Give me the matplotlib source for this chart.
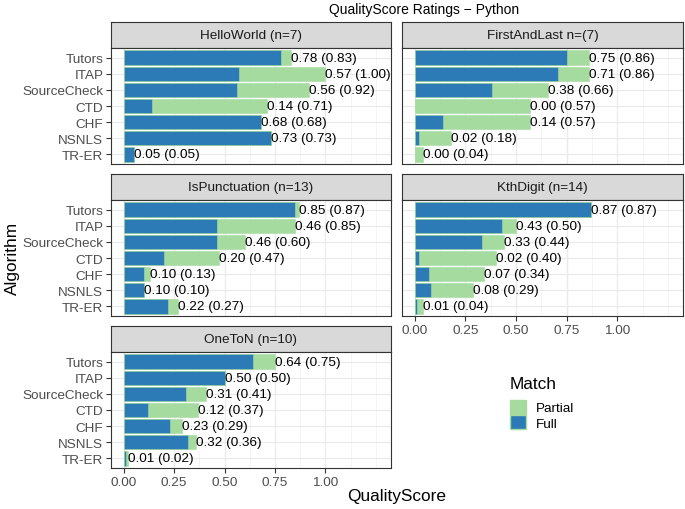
import matplotlib.pyplot as plt
from matplotlib.patches import Patch
import numpy as np

plt.rcParams['font.family'] = ['Liberation Sans', 'DejaVu Sans']

algorithms = ["Tutors", "ITAP", "SourceCheck", "CTD", "CHF", "NSNLS", "TR-ER"]

# strip title, full match score, full+partial score
problems = ["HelloWorld (n=7)", "FirstAndLast n=(7)", "IsPunctuation (n=13)",
            "KthDigit (n=14)", "OneToN (n=10)"]
full_hello = [0.78, 0.57, 0.56, 0.14, 0.68, 0.73, 0.05]
total_hello = [0.83, 1.00, 0.92, 0.71, 0.68, 0.73, 0.05]
full_first = [0.75, 0.71, 0.38, 0.00, 0.14, 0.02, 0.00]
total_first = [0.86, 0.86, 0.66, 0.57, 0.57, 0.18, 0.04]
full_punct = [0.85, 0.46, 0.46, 0.20, 0.10, 0.10, 0.22]
total_punct = [0.87, 0.85, 0.60, 0.47, 0.13, 0.10, 0.27]
full_kth = [0.87, 0.43, 0.33, 0.02, 0.07, 0.08, 0.01]
total_kth = [0.87, 0.50, 0.44, 0.40, 0.34, 0.29, 0.04]
full_one = [0.64, 0.50, 0.31, 0.12, 0.23, 0.32, 0.01]
total_one = [0.75, 0.50, 0.41, 0.37, 0.29, 0.36, 0.02]

fulls = [full_hello, full_first, full_punct, full_kth, full_one]
totals = [total_hello, total_first, total_punct, total_kth, total_one]

x_ticks = [0.0, 0.25, 0.5, 0.75, 1.0]
x_minor = [0.125, 0.375, 0.625, 0.875, 1.125, 1.25]

c_full = "#2c7bb6"
c_partial = "#a6dba0"
dark = "#333333"

W, H = 685, 510
fig = plt.figure(figsize=(W / 100, H / 100), dpi=100)

# pixel layout (top origin)
cols = [(111, 391), (402, 683)]
rows = [(23, 49, 165), (175, 201, 317), (327, 353, 469)]
fs = 9.7


def frac(x0, x1, y0, y1):
    return [x0 / W, 1 - y1 / H, (x1 - x0) / W, (y1 - y0) / H]


for i, name in enumerate(problems):
    r, c = divmod(i, 2)
    x0, x1 = cols[c]
    st, bt, bb = rows[r]

    sax = fig.add_axes(frac(x0, x1, st, bt))
    sax.set_facecolor("#d9d9d9")
    sax.set_xticks([])
    sax.set_yticks([])
    for sp in sax.spines.values():
        sp.set_color(dark)
        sp.set_linewidth(0.8)
    sax.text(0.5, 0.5, name, ha="center", va="center", fontsize=fs,
             color="#1a1a1a", transform=sax.transAxes)

    ax = fig.add_axes(frac(x0, x1, bt, bb))
    y = np.arange(len(algorithms))
    ax.barh(y, totals[i], height=0.9, color=c_partial, edgecolor=c_partial,
            linewidth=0.4, zorder=2)
    ax.barh(y, fulls[i], height=0.9, color=c_full, edgecolor=c_partial,
            linewidth=0.4, zorder=3)
    for yy, f, t in zip(y, fulls[i], totals[i]):
        ax.text(t, yy, f"{f:.2f} ({t:.2f})", ha="left", va="center",
                fontsize=fs, color="black", zorder=4)

    ax.set_xlim(-0.063, 1.325)
    ax.set_ylim(len(algorithms) - 0.4, -0.6)
    ax.set_xticks(x_ticks)
    ax.set_xticks(x_minor, minor=True)
    ax.set_yticks(y)
    ax.grid(which="major", color="#ebebeb", linewidth=1.0, zorder=0)
    ax.grid(which="minor", axis="x", color="#f3f3f3", linewidth=0.6, zorder=0)
    ax.set_axisbelow(True)
    for sp in ax.spines.values():
        sp.set_color(dark)
        sp.set_linewidth(0.8)
    ax.tick_params(which="minor", length=0)
    ax.tick_params(axis="both", which="major", length=3.5, width=0.8,
                   color=dark, labelsize=fs, labelcolor="#4d4d4d", pad=2)

    if c == 0:
        ax.set_yticklabels(algorithms)
    else:
        ax.tick_params(axis="y", length=0, labelleft=False)
    # x axis only under the last panel of each column
    if i in (3, 4):
        ax.set_xticklabels([f"{v:.2f}" for v in x_ticks])
    else:
        ax.tick_params(axis="x", length=0, labelbottom=False)

fig.text(424 / W, 1 - 10 / H, "QualityScore Ratings \u2212 Python",
         ha="center", va="center", fontsize=fs + 0.3, color="black")
fig.text(397 / W, 1 - 497 / H, "QualityScore", ha="center", va="center",
         fontsize=12.4, color="black")
fig.text(12 / W, 1 - 258 / H, "Algorithm", ha="center", va="center",
         rotation=90, fontsize=12.4, color="black")

# legend: title as its own text, keys from a legend
fig.text(510 / W, 1 - 385 / H, "Match", ha="left", va="center",
         fontsize=12.4, color="black")
handles = [Patch(facecolor=c_partial, edgecolor=c_partial),
           Patch(facecolor=c_full, edgecolor=c_partial)]
leg = fig.legend(handles, ["Partial", "Full"],
                 loc="upper left", bbox_to_anchor=(510 / W, 1 - 401 / H),
                 frameon=False, fontsize=fs,
                 handlelength=1.2, handleheight=1.2, handletextpad=0.75,
                 labelspacing=0.05, borderpad=0, borderaxespad=0)

fig.savefig("out.png", dpi=100)
